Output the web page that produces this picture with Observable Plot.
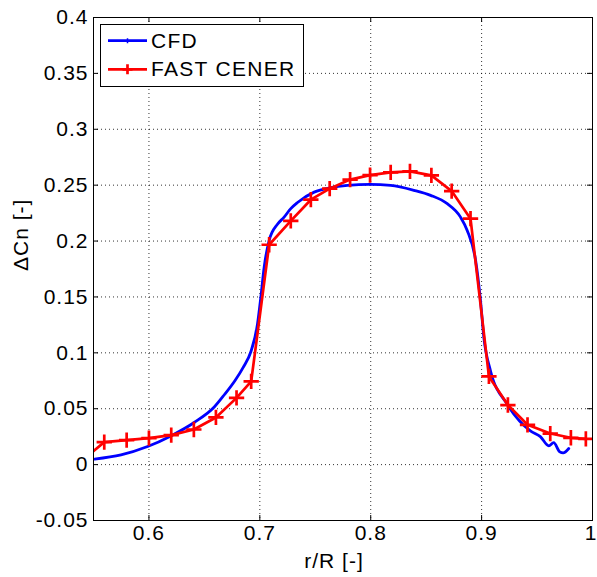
<!DOCTYPE html>
<html><head><meta charset="utf-8">
<script src="https://cdn.jsdelivr.net/npm/d3@7"></script>
<script src="https://cdn.jsdelivr.net/npm/@observablehq/plot@0.6"></script>
<style>
body{margin:0;background:#fff;}
#wrap{position:relative;width:597px;height:577px;font-family:"Liberation Sans",Arial,sans-serif;}
#legend{position:absolute;left:100px;top:24px;}
</style></head><body><div id="wrap"></div>
<script>
const xTicks = [0.6, 0.7, 0.8, 0.9, 1];
const yTicks = [-0.05, 0, 0.05, 0.1, 0.15, 0.2, 0.25, 0.3, 0.35, 0.4];
const seriesNames = ["CFD", "FAST CENER"];
const seriesColors = ["#0000ff", "#ff0000"];
const xLabel = "r/R [-]";
const yLabel = "ΔCn [-]";

const cfdX = [0.551, 0.5748, 0.5988, 0.6198, 0.6408, 0.6589, 0.668, 0.6775, 0.685, 0.6919, 0.6979, 0.7009, 0.7039, 0.7084, 0.7159, 0.7219, 0.7279, 0.734, 0.749, 0.764, 0.779, 0.7994, 0.818, 0.839, 0.854, 0.869, 0.881, 0.887, 0.8946, 0.899, 0.902, 0.908, 0.923, 0.944, 0.953, 0.9606, 0.965, 0.9705, 0.9735, 0.9786];
const cfdY = [0.005, 0.0087, 0.0162, 0.0257, 0.0377, 0.0515, 0.0625, 0.075, 0.087, 0.101, 0.1259, 0.1497, 0.1766, 0.2005, 0.2150, 0.2214, 0.2290, 0.2345, 0.2438, 0.2478, 0.2498, 0.2507, 0.2498, 0.2454, 0.2409, 0.2334, 0.2214, 0.2095, 0.1826, 0.1468, 0.1139, 0.084, 0.0541, 0.0302, 0.025, 0.0168, 0.0197, 0.0114, 0.0105, 0.0144];

const fastX = [0.54, 0.5597, 0.5799, 0.6, 0.6201, 0.6405, 0.6604, 0.679, 0.6922, 0.7084, 0.7279, 0.746, 0.763, 0.7814, 0.7994, 0.818, 0.8354, 0.8547, 0.873, 0.890, 0.9066, 0.9237, 0.9414, 0.9619, 0.9805, 0.994];
const fastY = [0.004, 0.0201, 0.0219, 0.0237, 0.0264, 0.0314, 0.0422, 0.0597, 0.0744, 0.1967, 0.2180, 0.2370, 0.2469, 0.2550, 0.2590, 0.2615, 0.2624, 0.2588, 0.2447, 0.2200, 0.0789, 0.0533, 0.0356, 0.0278, 0.0240, 0.0231];

const cfd = cfdX.map((x, i) => ({x, y: cfdY[i]}));
const fast = fastX.map((x, i) => ({x, y: fastY[i]}));

const W = 597, H = 577, mT = 17, mB = 57, mL = 93, mR = 5;
const plotH = H - mT - mB, plotW = W - mL - mR;
const fmt = d => String(d);
const font = "'Liberation Sans', Arial, sans-serif";
const gridStyle = {stroke: "#000", strokeOpacity: 0.8, strokeDasharray: "1,3"};

const chart = Plot.plot({
  width: W, height: H,
  marginTop: mT, marginBottom: mB, marginLeft: mL, marginRight: mR,
  style: {fontFamily: font, fontSize: "21px", background: "#fff", color: "#000", letterSpacing: "1px"},
  x: {domain: [0.55, 1]},
  y: {domain: [-0.05, 0.4]},
  marks: [
    Plot.gridX(xTicks, gridStyle),
    Plot.gridY(yTicks, gridStyle),
    Plot.line(cfd, {x: "x", y: "y", stroke: seriesColors[0], strokeWidth: 2.8, curve: "monotone-x", clip: true}),
    Plot.line(fast, {x: "x", y: "y", stroke: seriesColors[1], strokeWidth: 2.7, clip: true}),
    Plot.dot(fast, {x: "x", y: "y", symbol: "plus", r: 5, stroke: seriesColors[1], strokeWidth: 2.7, clip: true}),
    Plot.ruleX(xTicks, {insetTop: plotH - 5, stroke: "#000"}),
    Plot.ruleX(xTicks, {insetBottom: plotH - 5, stroke: "#000"}),
    Plot.ruleY(yTicks, {insetRight: plotW - 5, stroke: "#000"}),
    Plot.ruleY(yTicks, {insetLeft: plotW - 5, stroke: "#000"}),
    Plot.frame({stroke: "#000"}),
    Plot.axisX(xTicks.slice(0, -1), {tickSize: 0, tickPadding: 5, tickFormat: fmt, label: null, fontSize: 21}),
    Plot.axisX(xTicks.slice(-1), {tickSize: 0, tickPadding: 5, tickFormat: fmt, label: null, fontSize: 21, textAnchor: "end", dx: 5}),
    Plot.axisY(yTicks, {tickSize: 0, tickPadding: 5, tickFormat: fmt, label: null, fontSize: 21}),
    Plot.text([xLabel], {text: d => d, frameAnchor: "bottom", dy: 47, dx: -9, fontSize: 21}),
    Plot.text([yLabel], {text: d => d, frameAnchor: "left", dx: -72, dy: 2, rotate: -90, fontSize: 21})
  ]
});
const wrap = document.getElementById("wrap");
wrap.appendChild(chart);

// legend
const ns = "http://www.w3.org/2000/svg";
const lg = document.createElementNS(ns, "svg");
lg.setAttribute("id", "legend");
lg.setAttribute("width", 205);
lg.setAttribute("height", 64);
lg.style.fontFamily = font;
const box = document.createElementNS(ns, "rect");
Object.entries({x: 0.5, y: 0.5, width: 203, height: 62, fill: "#fff", stroke: "#000"}).forEach(([k, v]) => box.setAttribute(k, v));
lg.appendChild(box);
const rowsY = [16.7, 45.3];
seriesNames.forEach((name, i) => {
  const y = rowsY[i];
  const ln = document.createElementNS(ns, "line");
  Object.entries({x1: 8, x2: 47, y1: y, y2: y, stroke: seriesColors[i], "stroke-width": 2.7}).forEach(([k, v]) => ln.setAttribute(k, v));
  lg.appendChild(ln);
  const h = i === 0 ? 2.5 : 5;
  const pl = document.createElementNS(ns, "path");
  pl.setAttribute("d", `M${27.5 - h},${y}H${27.5 + h}M27.5,${y - h}V${y + h}`);
  pl.setAttribute("stroke", seriesColors[i]);
  pl.setAttribute("stroke-width", i === 0 ? 1.5 : 2.7);
  lg.appendChild(pl);
  const t = document.createElementNS(ns, "text");
  t.setAttribute("x", 51);
  t.setAttribute("y", y + 6.8);
  t.setAttribute("font-size", 21);
  t.setAttribute("letter-spacing", "1.3px");
  t.textContent = name;
  lg.appendChild(t);
});
wrap.appendChild(lg);
</script></body></html>
